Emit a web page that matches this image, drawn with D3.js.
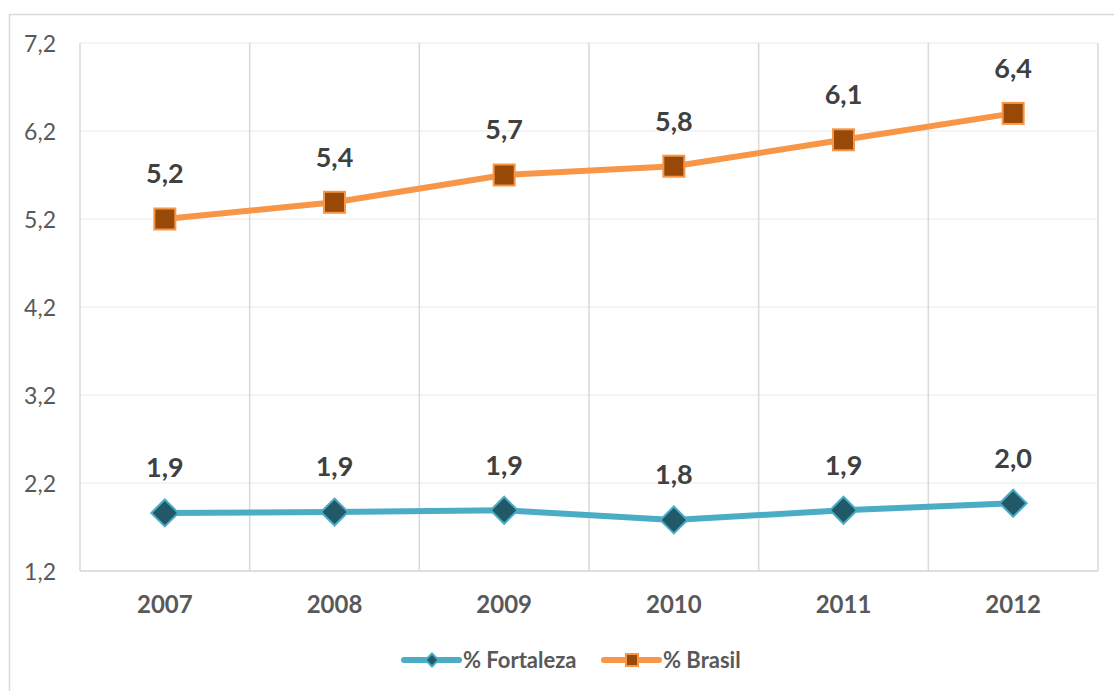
<!DOCTYPE html>
<html>
<head>
<meta charset="utf-8">
<script src="https://cdn.jsdelivr.net/npm/d3@7"></script>
<style>
  html, body { margin: 0; padding: 0; background: #fff; }
  svg { display: block; font-family: Lato, "Liberation Sans", sans-serif; }
</style>
</head>
<body>
<svg id="chart" width="1114" height="691"></svg>
<script>
// Categories and series
const years = ["2007", "2008", "2009", "2010", "2011", "2012"];
const fortaleza = [1.86, 1.87, 1.89, 1.78, 1.89, 1.97];
const brasil = [5.2, 5.39, 5.7, 5.8, 6.1, 6.4];
const yTicks = [1.2, 2.2, 3.2, 4.2, 5.2, 6.2, 7.2];
const seriesNames = ["% Fortaleza", "% Brasil"];

const svg = d3.select("#chart");
const W = 1114, H = 691;
const plot = { left: 80, right: 1098, top: 43, bottom: 571 };

const comma = v => d3.format(".1f")(v).replace(".", ",");

// Outer chart border
svg.append("rect")
  .attr("x", 9.5).attr("y", 14.5)
  .attr("width", W).attr("height", H)
  .attr("fill", "#fff")
  .attr("stroke", "#d9d9d9").attr("stroke-width", 1.5);

const x = d3.scaleBand().domain(years).range([plot.left, plot.right]).paddingInner(0).paddingOuter(0);
const y = d3.scaleLinear().domain([1.2, 7.2]).range([plot.bottom, plot.top]);

// Horizontal gridlines
svg.append("g")
  .selectAll("line")
  .data(yTicks)
  .join("line")
  .attr("x1", plot.left).attr("x2", plot.right)
  .attr("y1", d => y(d)).attr("y2", d => y(d))
  .attr("stroke", "#f0f0f0").attr("stroke-width", 1.5);

// Vertical category separators
const bounds = years.map(d => x(d)).concat([x(years[years.length - 1]) + x.bandwidth()]);
svg.append("g")
  .selectAll("line")
  .data(bounds)
  .join("line")
  .attr("x1", d => d).attr("x2", d => d)
  .attr("y1", plot.top).attr("y2", plot.bottom)
  .attr("stroke", "#d9d9d9").attr("stroke-width", 1.5);

// Category axis line
svg.append("line")
  .attr("x1", plot.left).attr("x2", plot.right)
  .attr("y1", plot.bottom).attr("y2", plot.bottom)
  .attr("stroke", "#d9d9d9").attr("stroke-width", 1.5);

// Y axis labels
const yAxis = d3.axisLeft(y).tickValues(yTicks).tickFormat(comma).tickSize(0).tickPadding(24);
const gy = svg.append("g").attr("transform", `translate(${plot.left},0)`).call(yAxis);
gy.select(".domain").remove();
gy.attr("font-size", null).attr("font-family", null);
gy.selectAll("text")
  .attr("fill", "#595959")
  .style("font-size", "23px")
  .attr("dy", "0.35em");

// X axis labels
const xAxis = d3.axisBottom(x).tickSize(0).tickPadding(34);
const gx = svg.append("g").attr("transform", `translate(0,${plot.bottom})`).call(xAxis);
gx.select(".domain").remove();
gx.attr("font-size", null).attr("font-family", null);
gx.selectAll("text")
  .attr("fill", "#595959")
  .attr("dy", "0.35em")
  .style("font-size", "24px")
  .style("font-weight", "bold");

const cx = d => x(d) + x.bandwidth() / 2;
const line = d3.line().x((d, i) => cx(years[i])).y(d => y(d));

const styles = [
  { values: fortaleza, line: "#4bacc6", fill: "#215968", marker: "diamond" },
  { values: brasil, line: "#f79646", fill: "#984807", marker: "square" }
];

function drawMarker(g, kind, px, py, s, fill, stroke) {
  if (kind === "diamond") {
    const r = s / 2;
    g.append("path")
      .attr("d", `M${px},${py - r}L${px + r},${py}L${px},${py + r}L${px - r},${py}Z`)
      .attr("fill", fill).attr("stroke", stroke).attr("stroke-width", 2);
  } else {
    g.append("rect")
      .attr("x", px - s / 2).attr("y", py - s / 2)
      .attr("width", s).attr("height", s)
      .attr("fill", fill).attr("stroke", stroke).attr("stroke-width", 2);
  }
}

styles.forEach(s => {
  const g = svg.append("g");
  g.append("path")
    .datum(s.values)
    .attr("d", line)
    .attr("fill", "none")
    .attr("stroke", s.line)
    .attr("stroke-width", 6)
    .attr("stroke-linejoin", "round")
    .attr("stroke-linecap", "round");
  s.values.forEach((v, i) => {
    drawMarker(g, s.marker, cx(years[i]), y(v), s.marker === "diamond" ? 27 : 21, s.fill, s.line);
  });
  g.selectAll("text.lbl")
    .data(s.values)
    .join("text")
    .attr("class", "lbl")
    .attr("x", (d, i) => cx(years[i]))
    .attr("y", d => y(d) - 45)
    .attr("dy", "0.35em")
    .attr("text-anchor", "middle")
    .attr("fill", "#404040")
    .style("font-size", "27px")
    .style("font-weight", "bold")
    .text(d => comma(d));
});

// Legend
const legendItems = [
  { name: seriesNames[0], st: styles[0], x0: 404 },
  { name: seriesNames[1], st: styles[1], x0: 604 }
];
const ly = 660;
legendItems.forEach(item => {
  const g = svg.append("g");
  g.append("line")
    .attr("x1", item.x0).attr("x2", item.x0 + 55)
    .attr("y1", ly).attr("y2", ly)
    .attr("stroke", item.st.line).attr("stroke-width", 6)
    .attr("stroke-linecap", "round");
  drawMarker(g, item.st.marker, item.x0 + 28, ly, item.st.marker === "diamond" ? 13 : 12, item.st.fill, item.st.line);
  g.append("text")
    .attr("x", item.x0 + 59).attr("y", ly)
    .attr("dy", "0.35em")
    .attr("fill", "#595959")
    .style("font-size", "22px")
    .style("font-weight", "bold")
    .text(item.name);
});
</script>
</body>
</html>
